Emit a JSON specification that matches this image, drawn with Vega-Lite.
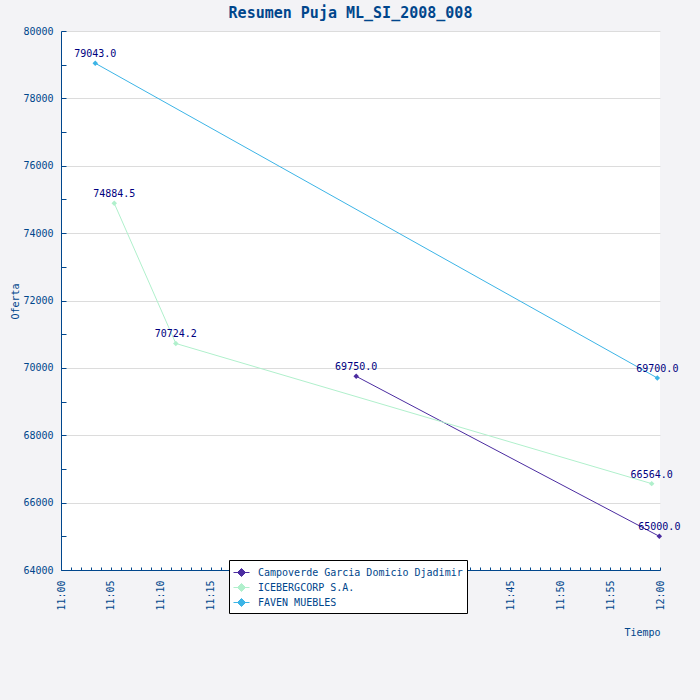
{
  "$schema": "https://vega.github.io/schema/vega-lite/v6.json",
  "width": 599,
  "height": 539,
  "autosize": {"type": "none"},
  "padding": {"left": 61, "top": 31, "right": 40, "bottom": 130},
  "background": "#f3f3f6",
  "title": {
    "text": "Resumen Puja ML_SI_2008_008",
    "font": "DejaVu Sans Mono",
    "fontSize": 15,
    "fontWeight": "bold",
    "color": "#00468c",
    "anchor": "middle",
    "dx": -10,
    "offset": 5
  },
  "config": {
    "view": {"fill": "white", "stroke": null},
    "font": "DejaVu Sans Mono",
    "axis": {
      "domainColor": "#00468c",
      "tickColor": "#00468c",
      "labelColor": "#00468c",
      "titleColor": "#00468c",
      "labelFont": "DejaVu Sans Mono",
      "titleFont": "DejaVu Sans Mono",
      "labelFontSize": 10,
      "titleFontSize": 10,
      "titleFontWeight": "normal",
      "gridColor": "#dcdcdc"
    }
  },
  "data": {
    "values": [
      {"empresa": "Campoverde Garcia Domicio Djadimir", "tiempo": "2008-01-01T11:29:34", "oferta": 69750.0},
      {"empresa": "Campoverde Garcia Domicio Djadimir", "tiempo": "2008-01-01T11:59:56", "oferta": 65000.0},
      {"empresa": "ICEBERGCORP S.A.", "tiempo": "2008-01-01T11:05:20", "oferta": 74884.5},
      {"empresa": "ICEBERGCORP S.A.", "tiempo": "2008-01-01T11:11:30", "oferta": 70724.2},
      {"empresa": "ICEBERGCORP S.A.", "tiempo": "2008-01-01T11:59:10", "oferta": 66564.0},
      {"empresa": "FAVEN MUEBLES", "tiempo": "2008-01-01T11:03:26", "oferta": 79043.0},
      {"empresa": "FAVEN MUEBLES", "tiempo": "2008-01-01T11:59:44", "oferta": 69700.0}
    ]
  },
  "encoding": {
    "x": {
      "field": "tiempo",
      "type": "temporal",
      "scale": {
        "domain": [
          {"year": 2008, "month": 1, "date": 1, "hours": 11},
          {"year": 2008, "month": 1, "date": 1, "hours": 12}
        ],
        "nice": false
      },
      "axis": {
        "title": "Tiempo",
        "titleX": 599,
        "titleY": 65,
        "titleAlign": "right",
        "titleBaseline": "alphabetic",
        "values": [
          {"year": 2008, "month": 1, "date": 1, "hours": 11, "minutes": 0},
          {"year": 2008, "month": 1, "date": 1, "hours": 11, "minutes": 1},
          {"year": 2008, "month": 1, "date": 1, "hours": 11, "minutes": 2},
          {"year": 2008, "month": 1, "date": 1, "hours": 11, "minutes": 3},
          {"year": 2008, "month": 1, "date": 1, "hours": 11, "minutes": 4},
          {"year": 2008, "month": 1, "date": 1, "hours": 11, "minutes": 5},
          {"year": 2008, "month": 1, "date": 1, "hours": 11, "minutes": 6},
          {"year": 2008, "month": 1, "date": 1, "hours": 11, "minutes": 7},
          {"year": 2008, "month": 1, "date": 1, "hours": 11, "minutes": 8},
          {"year": 2008, "month": 1, "date": 1, "hours": 11, "minutes": 9},
          {"year": 2008, "month": 1, "date": 1, "hours": 11, "minutes": 10},
          {"year": 2008, "month": 1, "date": 1, "hours": 11, "minutes": 11},
          {"year": 2008, "month": 1, "date": 1, "hours": 11, "minutes": 12},
          {"year": 2008, "month": 1, "date": 1, "hours": 11, "minutes": 13},
          {"year": 2008, "month": 1, "date": 1, "hours": 11, "minutes": 14},
          {"year": 2008, "month": 1, "date": 1, "hours": 11, "minutes": 15},
          {"year": 2008, "month": 1, "date": 1, "hours": 11, "minutes": 16},
          {"year": 2008, "month": 1, "date": 1, "hours": 11, "minutes": 17},
          {"year": 2008, "month": 1, "date": 1, "hours": 11, "minutes": 18},
          {"year": 2008, "month": 1, "date": 1, "hours": 11, "minutes": 19},
          {"year": 2008, "month": 1, "date": 1, "hours": 11, "minutes": 20},
          {"year": 2008, "month": 1, "date": 1, "hours": 11, "minutes": 21},
          {"year": 2008, "month": 1, "date": 1, "hours": 11, "minutes": 22},
          {"year": 2008, "month": 1, "date": 1, "hours": 11, "minutes": 23},
          {"year": 2008, "month": 1, "date": 1, "hours": 11, "minutes": 24},
          {"year": 2008, "month": 1, "date": 1, "hours": 11, "minutes": 25},
          {"year": 2008, "month": 1, "date": 1, "hours": 11, "minutes": 26},
          {"year": 2008, "month": 1, "date": 1, "hours": 11, "minutes": 27},
          {"year": 2008, "month": 1, "date": 1, "hours": 11, "minutes": 28},
          {"year": 2008, "month": 1, "date": 1, "hours": 11, "minutes": 29},
          {"year": 2008, "month": 1, "date": 1, "hours": 11, "minutes": 30},
          {"year": 2008, "month": 1, "date": 1, "hours": 11, "minutes": 31},
          {"year": 2008, "month": 1, "date": 1, "hours": 11, "minutes": 32},
          {"year": 2008, "month": 1, "date": 1, "hours": 11, "minutes": 33},
          {"year": 2008, "month": 1, "date": 1, "hours": 11, "minutes": 34},
          {"year": 2008, "month": 1, "date": 1, "hours": 11, "minutes": 35},
          {"year": 2008, "month": 1, "date": 1, "hours": 11, "minutes": 36},
          {"year": 2008, "month": 1, "date": 1, "hours": 11, "minutes": 37},
          {"year": 2008, "month": 1, "date": 1, "hours": 11, "minutes": 38},
          {"year": 2008, "month": 1, "date": 1, "hours": 11, "minutes": 39},
          {"year": 2008, "month": 1, "date": 1, "hours": 11, "minutes": 40},
          {"year": 2008, "month": 1, "date": 1, "hours": 11, "minutes": 41},
          {"year": 2008, "month": 1, "date": 1, "hours": 11, "minutes": 42},
          {"year": 2008, "month": 1, "date": 1, "hours": 11, "minutes": 43},
          {"year": 2008, "month": 1, "date": 1, "hours": 11, "minutes": 44},
          {"year": 2008, "month": 1, "date": 1, "hours": 11, "minutes": 45},
          {"year": 2008, "month": 1, "date": 1, "hours": 11, "minutes": 46},
          {"year": 2008, "month": 1, "date": 1, "hours": 11, "minutes": 47},
          {"year": 2008, "month": 1, "date": 1, "hours": 11, "minutes": 48},
          {"year": 2008, "month": 1, "date": 1, "hours": 11, "minutes": 49},
          {"year": 2008, "month": 1, "date": 1, "hours": 11, "minutes": 50},
          {"year": 2008, "month": 1, "date": 1, "hours": 11, "minutes": 51},
          {"year": 2008, "month": 1, "date": 1, "hours": 11, "minutes": 52},
          {"year": 2008, "month": 1, "date": 1, "hours": 11, "minutes": 53},
          {"year": 2008, "month": 1, "date": 1, "hours": 11, "minutes": 54},
          {"year": 2008, "month": 1, "date": 1, "hours": 11, "minutes": 55},
          {"year": 2008, "month": 1, "date": 1, "hours": 11, "minutes": 56},
          {"year": 2008, "month": 1, "date": 1, "hours": 11, "minutes": 57},
          {"year": 2008, "month": 1, "date": 1, "hours": 11, "minutes": 58},
          {"year": 2008, "month": 1, "date": 1, "hours": 11, "minutes": 59},
          {"year": 2008, "month": 1, "date": 1, "hours": 12, "minutes": 0}
        ],
        "format": "%H:%M",
        "labelExpr": "minutes(datum.value) % 5 == 0 ? datum.label : ''",
        "labelAngle": 270,
        "labelAlign": "right",
        "labelBaseline": "middle",
        "labelPadding": 13,
        "labelOverlap": false,
        "labelFlush": false,
        "tickSize": -3,
        "grid": false
      }
    },
    "y": {
      "field": "oferta",
      "type": "quantitative",
      "scale": {"domain": [64000, 80000], "nice": false, "zero": false},
      "axis": {
        "title": "Oferta",
        "titleX": -43,
        "titleY": 270,
        "titleAngle": 270,
        "titleAlign": "center",
        "titleBaseline": "alphabetic",
        "values": [64000, 65000, 66000, 67000, 68000, 69000, 70000, 71000, 72000, 73000, 74000, 75000, 76000, 77000, 78000, 79000, 80000],
        "labelExpr": "datum.value % 2000 == 0 ? format(datum.value, 'd') : ''",
        "labelPadding": 13,
        "labelOverlap": false,
        "labelFlush": false,
        "tickSize": -5,
        "grid": true,
        "gridOpacity": {"condition": {"test": "datum.value % 2000 == 0 && datum.value > 64000", "value": 1}, "value": 0}
      }
    },
    "color": {
      "field": "empresa",
      "type": "nominal",
      "scale": {
        "domain": ["Campoverde Garcia Domicio Djadimir", "ICEBERGCORP S.A.", "FAVEN MUEBLES"],
        "range": ["#4b2ca0", "#b0f0cc", "#3cb4e6"]
      },
      "legend": {
        "title": null,
        "orient": "none",
        "legendX": 168,
        "legendY": 529,
        "fillColor": "white",
        "strokeColor": "black",
        "padding": 4,
        "rowPadding": 0,
        "symbolType": "M-1,0L1,0M0,-0.5L0.5,0L0,0.5L-0.5,0Z",
        "symbolSize": 256,
        "symbolStrokeWidth": 1,
        "labelOffset": 8,
        "labelFont": "DejaVu Sans Mono",
        "labelFontSize": 10,
        "labelColor": "#00468c",
        "labelLimit": 400,
        "encode": {
          "symbols": {"update": {"size": {"value": 256}, "strokeWidth": {"value": 1}}}
        }
      }
    }
  },
  "layer": [
    {"mark": {"type": "line", "strokeWidth": 1}},
    {"mark": {"type": "point", "shape": "diamond", "filled": true, "size": 30, "opacity": 1}},
    {
      "mark": {"type": "text", "dy": -9, "color": "#000080", "fontSize": 10, "font": "DejaVu Sans Mono"},
      "encoding": {
        "text": {"field": "oferta", "type": "quantitative", "format": ".1f"},
        "color": {"value": "#000080"}
      }
    }
  ]
}
